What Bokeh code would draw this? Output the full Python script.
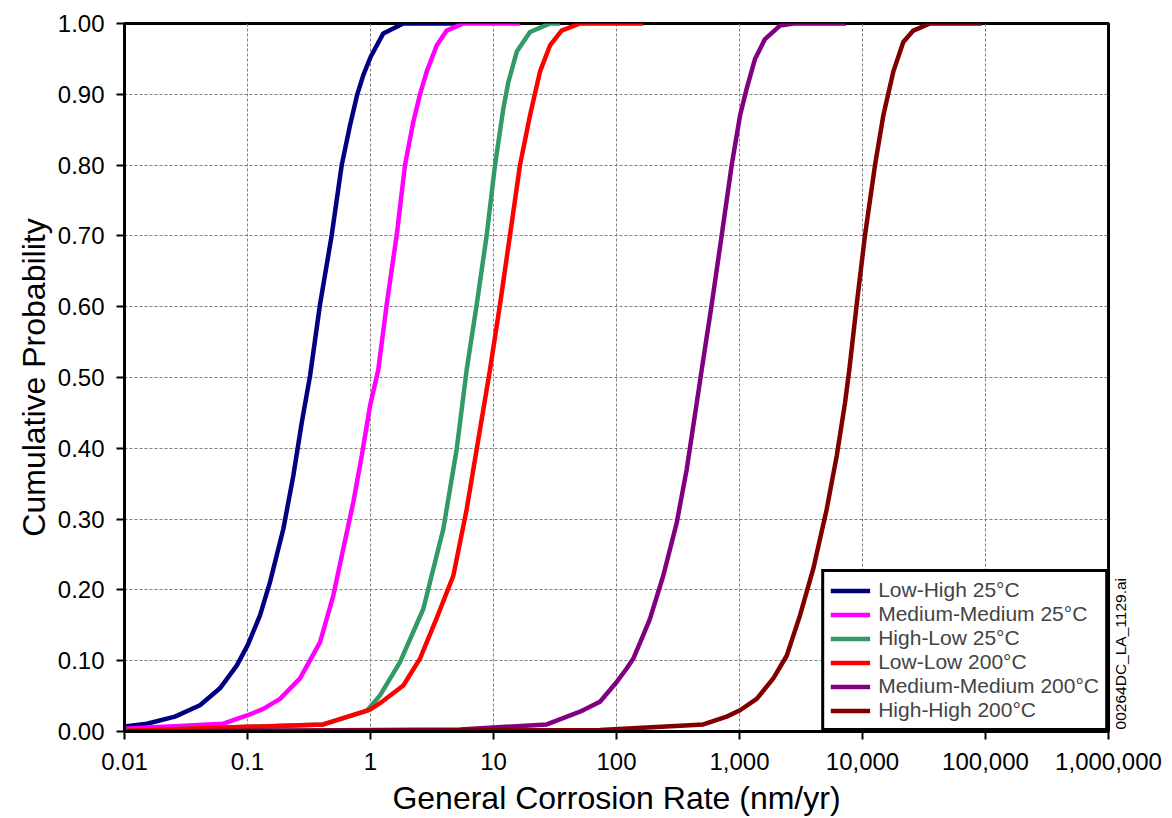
from bokeh.plotting import figure
from bokeh.models import FixedTicker, Legend, LegendItem, LinearAxis
from bokeh.embed import file_html
from bokeh.resources import INLINE
from math import pi

# ---- data ----
x_ticks = [0.01, 0.1, 1, 10, 100, 1000, 10000, 100000, 1000000]
x_tick_labels = ["0.01", "0.1", "1", "10", "100", "1,000", "10,000", "100,000", "1,000,000"]
y_ticks = [0.0, 0.1, 0.2, 0.3, 0.4, 0.5, 0.6, 0.7, 0.8, 0.9, 1.0]
y_tick_labels = ["0.00", "0.10", "0.20", "0.30", "0.40", "0.50", "0.60", "0.70", "0.80", "0.90", "1.00"]

low_high_25_x = [0.01, 0.0152, 0.0257, 0.0411, 0.0597, 0.0817, 0.1004, 0.1264, 0.1524, 0.1955, 0.2357,
                 0.2759, 0.3222, 0.3885, 0.4838, 0.5833, 0.681, 0.781, 0.874, 1.004, 1.271, 1.848, 5.55]
low_high_25_p = [0.007, 0.011, 0.021, 0.037, 0.061, 0.093, 0.122, 0.164, 0.211, 0.286, 0.361,
                 0.436, 0.502, 0.603, 0.701, 0.800, 0.856, 0.900, 0.927, 0.953, 0.986, 1.0, 1.0]

med_med_25_x = [0.01, 0.0636, 0.1004, 0.1344, 0.1837, 0.2673, 0.3885, 0.4985, 0.601, 0.725, 0.848, 0.991,
                1.157, 1.354, 1.633, 1.908, 2.228, 2.526, 2.864, 3.453, 4.164, 5.68, 16.4]
med_med_25_p = [0.004, 0.011, 0.023, 0.032, 0.046, 0.075, 0.126, 0.192, 0.258, 0.324, 0.389, 0.460,
                0.511, 0.603, 0.701, 0.800, 0.861, 0.900, 0.932, 0.969, 0.990, 1.0, 1.0]

high_low_25_x = [0.01, 0.4133, 0.9315, 1.195, 1.737, 2.687, 3.908, 5.022, 6.055, 7.302, 8.806,
                 10.29, 12.02, 13.2, 15.44, 19.8, 28.8, 34.7]
high_low_25_p = [0.001, 0.010, 0.029, 0.051, 0.098, 0.173, 0.286, 0.399, 0.511, 0.603, 0.701,
                 0.800, 0.880, 0.917, 0.960, 0.988, 1.0, 1.0]

low_low_200_x = [0.01, 0.4133, 0.991, 1.195, 1.848, 2.526, 3.453, 4.713, 6.055, 7.302, 9.366,
                 11.29, 13.62, 16.42, 19.8, 23.88, 28.8, 35.8, 50.5, 165.0]
low_low_200_p = [0.001, 0.010, 0.031, 0.040, 0.065, 0.103, 0.160, 0.220, 0.314, 0.399, 0.511,
                 0.603, 0.701, 0.800, 0.870, 0.932, 0.969, 0.990, 1.0, 1.0]

med_med_200_x = [0.01, 5.34, 27.1, 50.5, 73.4, 100.4, 121.0, 137.0, 165.0, 187.0, 240.0, 309.0, 372.0,
                 449.0, 493.0, 594.0, 717.0, 864.0, 1010.0, 1144.0, 1337.0, 1612.0, 2134.0, 2737.0, 7340.0]
med_med_200_p = [0.0, 0.003, 0.010, 0.028, 0.042, 0.070, 0.089, 0.103, 0.136, 0.159, 0.220, 0.295, 0.370,
                 0.464, 0.511, 0.603, 0.701, 0.800, 0.870, 0.908, 0.950, 0.978, 0.997, 1.0, 1.0]

high_high_200_x = [0.01, 73.4, 508.0, 787.0, 1010.0, 1380.0, 1883.0, 2420.0, 3104.0, 3981.0, 5117.0, 6169.0,
                   7206.0, 7812.0, 8970.0, 10480.0, 12640.0, 14760.0, 17800.0, 21470.0, 25880.0, 35390.0, 93150.0]
high_high_200_p = [0.0, 0.002, 0.010, 0.021, 0.030, 0.046, 0.075, 0.107, 0.164, 0.230, 0.314, 0.389,
                   0.464, 0.511, 0.603, 0.701, 0.800, 0.870, 0.932, 0.974, 0.990, 1.0, 1.0]

series_names = ["Low-High 25°C", "Medium-Medium 25°C", "High-Low 25°C",
                "Low-Low 200°C", "Medium-Medium 200°C", "High-High 200°C"]
series_colors = ["#000080", "#FF00FF", "#339966", "#FF0000", "#800080", "#800000"]
series_x = [low_high_25_x, med_med_25_x, high_low_25_x, low_low_200_x, med_med_200_x, high_high_200_x]
series_p = [low_high_25_p, med_med_25_p, high_low_25_p, low_low_200_p, med_med_200_p, high_high_200_p]

file_tag = "00264DC_LA_1129.ai"
file_tag_pos = 0.003   # where the tag starts, in probability units

FONT = "Liberation Sans"

p = figure(width=1172, height=818, x_axis_type="log",
           x_range=(0.01, 1000000), y_range=(0, 1),
           output_backend="svg", toolbar_location=None,
           min_border_left=124, min_border_right=64, min_border_top=23, min_border_bottom=85)
p.background_fill_color = "white"
p.border_fill_color = "white"
p.outline_line_color = "black"
p.outline_line_width = 3
p.outline_line_alpha = 1.0

items = []
for name, col, xs, ps in zip(series_names, series_colors, series_x, series_p):
    r = p.line(xs, ps, line_color=col, line_width=4.5, line_join="round")
    items.append(LegendItem(label=name, renderers=[r]))
legend = Legend(items=items, location="bottom_right")

p.xaxis.ticker = FixedTicker(ticks=x_ticks, minor_ticks=[])
p.yaxis.ticker = FixedTicker(ticks=y_ticks, minor_ticks=[])
p.xaxis.major_label_overrides = {t: l for t, l in zip(x_ticks, x_tick_labels)}
p.yaxis.major_label_overrides = {t: l for t, l in zip(y_ticks, y_tick_labels)}

for ax in (p.xaxis, p.yaxis):
    ax.axis_line_width = 3
    ax.axis_line_color = "black"
    ax.major_tick_in = 0
    ax.major_tick_out = 8
    ax.major_tick_line_width = 2
    ax.major_tick_line_color = "black"
    ax.major_label_text_font = FONT
    ax.major_label_text_font_size = "24px"
    ax.major_label_text_color = "black"
    ax.axis_label_text_font = FONT
    ax.axis_label_text_font_size = "32px"
    ax.axis_label_text_font_style = "normal"
    ax.axis_label_text_color = "black"

p.xaxis.axis_label = "General Corrosion Rate (nm/yr)"
p.yaxis.axis_label = "Cumulative Probability"
p.xaxis.major_label_standoff = 13
p.yaxis.major_label_standoff = 12
p.xaxis.axis_label_standoff = 7
p.yaxis.axis_label_standoff = 3

for g in (p.xgrid, p.ygrid):
    g.grid_line_color = "#7f7f7f"
    g.grid_line_dash = "3 2"
    g.grid_line_width = 1

legend.margin = 0
legend.padding = 6
legend.spacing = 0
legend.label_height = 23
legend.glyph_height = 23
legend.glyph_width = 40
legend.label_standoff = 8
legend.label_text_font = FONT
legend.label_text_font_size = "21px"
legend.border_line_color = "black"
legend.border_line_width = 3
legend.border_line_alpha = 1.0
legend.background_fill_color = "white"
legend.background_fill_alpha = 1.0
p.add_layout(legend)

# vertical file tag right of the frame, carried by a bare right-hand axis
tag_axis = LinearAxis(ticker=FixedTicker(ticks=[file_tag_pos], minor_ticks=[]),
                      major_label_overrides={file_tag_pos: file_tag},
                      major_label_orientation=pi / 2,
                      major_label_standoff=12,
                      major_tick_in=0, major_tick_out=0,
                      axis_line_color=None, major_tick_line_color=None,
                      major_label_text_font=FONT, major_label_text_font_size="15.5px",
                      major_label_text_color="black")
p.add_layout(tag_axis, "right")

open("out.html", "w").write(file_html(p, INLINE))
